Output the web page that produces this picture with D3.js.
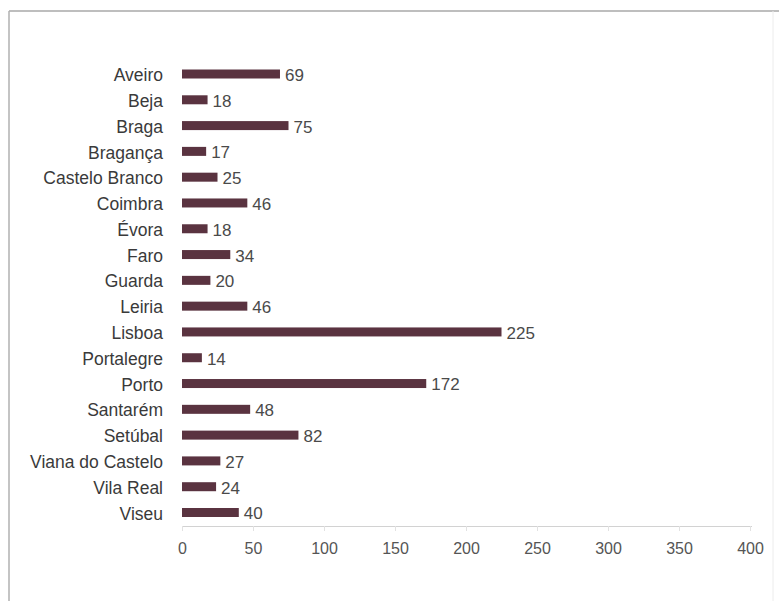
<!DOCTYPE html>
<html>
<head>
<meta charset="utf-8">
<script src="https://cdn.jsdelivr.net/npm/d3@7"></script>
<style>
  html, body { margin: 0; padding: 0; background: #fff; }
  svg { display: block; }
  text { font-family: "Liberation Sans", Arial, Helvetica, sans-serif; }
</style>
</head>
<body>
<svg id="chart" width="779" height="601"></svg>
<script>
const categories = ["Aveiro","Beja","Braga","Bragança","Castelo Branco","Coimbra","Évora","Faro","Guarda","Leiria","Lisboa","Portalegre","Porto","Santarém","Setúbal","Viana do Castelo","Vila Real","Viseu"];
const values = [69,18,75,17,25,46,18,34,20,46,225,14,172,48,82,27,24,40];
const tickValues = [0,50,100,150,200,250,300,350,400];

const data = categories.map((c, i) => ({ name: c, value: values[i] }));

const svg = d3.select("#chart");

// frame
svg.append("line").attr("x1", 9).attr("x2", 779).attr("y1", 11).attr("y2", 11)
  .attr("stroke", "#a8a8a8").attr("stroke-width", 1.5);
svg.append("line").attr("x1", 9).attr("x2", 9).attr("y1", 11).attr("y2", 601)
  .attr("stroke", "#b0b0b0").attr("stroke-width", 1.5);
svg.append("line").attr("x1", 773).attr("x2", 773).attr("y1", 11).attr("y2", 601)
  .attr("stroke", "#ececec").attr("stroke-width", 1);

const x = d3.scaleLinear().domain([0, 400]).range([182, 750]);
const y = d3.scalePoint().domain(categories).range([74, 512.5]);
const barH = 9;

// x axis
const axisG = svg.append("g").attr("transform", "translate(0,526)");
axisG.call(d3.axisBottom(x).tickValues(tickValues).tickSize(5).tickPadding(12).tickSizeOuter(0));
axisG.select(".domain").attr("stroke", "#d2d2d2").attr("d", "M182,0.5H752");
axisG.selectAll(".tick line").attr("stroke", "#e2e2e2");
axisG.selectAll(".tick text")
  .attr("fill", "#555")
  .style("font-size", "16px")
  .style("font-family", "'Liberation Sans', Arial, sans-serif");

// bars
svg.append("g").selectAll("rect").data(data).join("rect")
  .attr("x", x(0))
  .attr("y", d => y(d.name) - barH / 2)
  .attr("width", d => x(d.value) - x(0))
  .attr("height", barH)
  .attr("fill", "#5a3340");

// value labels
svg.append("g").selectAll("text").data(data).join("text")
  .attr("x", d => x(d.value) + 5)
  .attr("y", d => y(d.name) + 1)
  .attr("dy", "0.35em")
  .attr("fill", "#4a4a4a")
  .style("font-size", "17px")
  .text(d => d.value);

// category labels
svg.append("g").selectAll("text").data(data).join("text")
  .attr("x", 163)
  .attr("y", d => y(d.name) + 1)
  .attr("dy", "0.35em")
  .attr("text-anchor", "end")
  .attr("fill", "#3a3a3a")
  .style("font-size", "17.5px")
  .text(d => d.name);
</script>
</body>
</html>
